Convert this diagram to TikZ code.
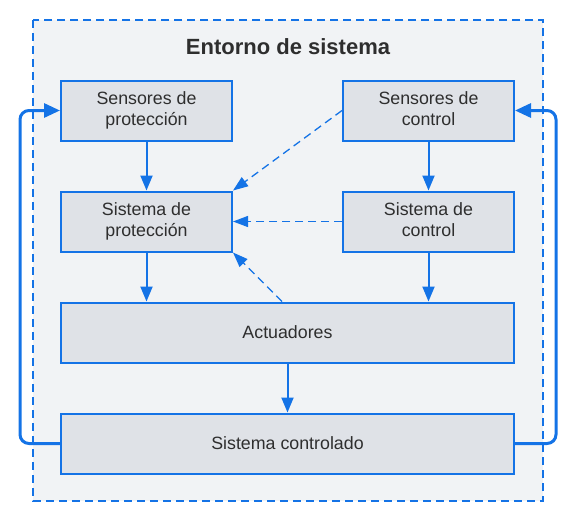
\documentclass[tikz,border=0pt]{standalone}
\usepackage{fontspec}
\setmainfont{Liberation Sans}
\usetikzlibrary{arrows.meta}
\definecolor{eblue}{HTML}{1473E6}
\definecolor{efill}{HTML}{DFE2E7}
\definecolor{ebg}{HTML}{F1F3F5}
\definecolor{etext}{HTML}{2E2E2E}
\tikzset{
  box/.style={draw=eblue, line width=2pt, fill=efill, minimum width=171pt, minimum height=60pt,
    inner sep=0pt, align=center, text=etext, font=\fontsize{17.8}{21}\selectfont},
  wide/.style={box, minimum width=453pt},
  arr/.style={draw=eblue, line width=2pt, -{Triangle[length=15pt,width=12pt]}, color=eblue},
  darr/.style={draw=eblue, line width=1.3pt, dash pattern=on 8pt off 5pt, -{Triangle[length=15pt,width=11pt]}, color=eblue},
  fb/.style={draw=eblue, line width=3pt, rounded corners=9pt, -{Triangle[length=16pt,width=14pt]}, color=eblue},
}
\begin{document}
\begin{tikzpicture}[x=1pt,y=-1pt]
\useasboundingbox (0,0) rectangle (575,523);
\draw[eblue, fill=ebg, line width=2pt, dash pattern=on 8pt off 5pt] (33,20) rectangle (543,501);
\node[text=etext, font=\bfseries\fontsize{22}{26}\selectfont] (title) at (288,47) {Entorno de sistema};
\node[box] (sp) at (146.5,110.5) {Sensores de\\protección};
\node[box] (sc) at (428.5,110.5) {Sensores de\\control\vphantom{p}};
\node[box] (yp) at (146.5,221.5) {Sistema de\\protección};
\node[box] (yc) at (428.5,221.5) {Sistema de\\control\vphantom{p}};
\node[wide] (act) at (287.5,332.5) {Actuadores};
\node[wide] (ctl) at (287.5,443.5) {Sistema controlado};
% solid arrows
\draw[arr] (sp.south) -- (yp.north);
\draw[arr] (sc.south) -- (yc.north);
\draw[arr] (yp.south) -- (yp.south |- act.north);
\draw[arr] (yc.south) -- (yc.south |- act.north);
\draw[arr] (act.south) -- (ctl.north);
% dashed arrows
\draw[darr] (sc.west) -- (yp.north east);
\draw[darr] (yc.west) -- (yp.east);
\coordinate (actd) at ([xshift=-5.5pt]act.north);
\draw[darr] (actd) -- (yp.south east);
% feedback loops
\coordinate (la) at (20,443.5);
\coordinate (lb) at (20,110.5);
\coordinate (ra) at (556,443.5);
\coordinate (rb) at (556,110.5);
\draw[fb] (ctl.west) -- (la) -- (lb) -- (sp.west);
\draw[fb] (ctl.east) -- (ra) -- (rb) -- (sc.east);
\end{tikzpicture}
\end{document}
